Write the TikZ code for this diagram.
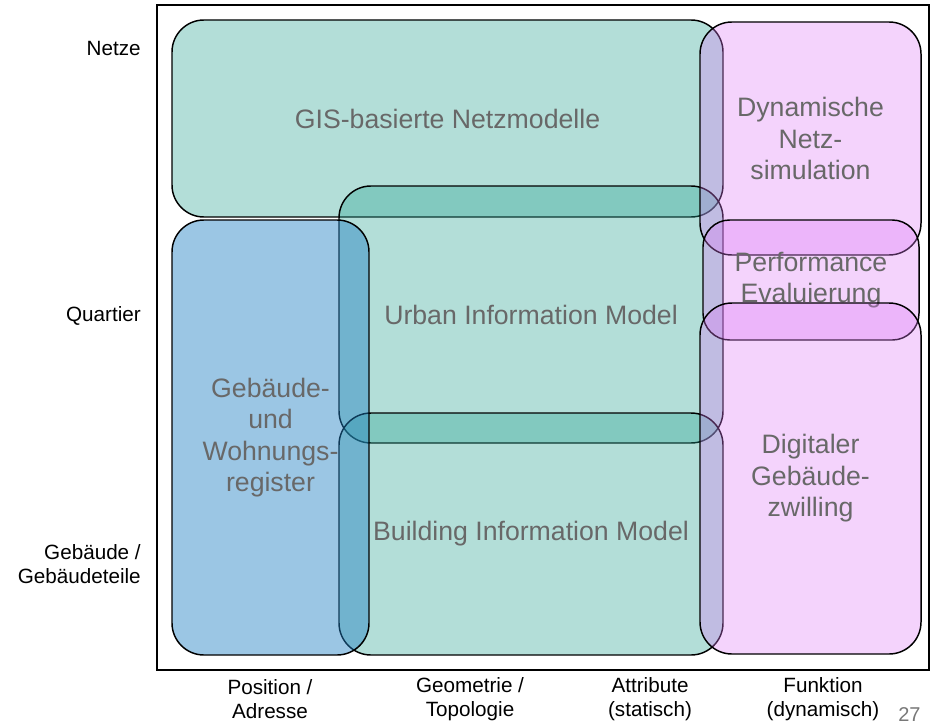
\documentclass[tikz,border=0pt]{standalone}
\usepackage{fontspec}
\setmainfont{Liberation Sans}
\definecolor{tealfill}{RGB}{38,161,144}
\definecolor{bluefill}{RGB}{33,128,195}
\definecolor{pinkfill}{RGB}{221,121,246}
\definecolor{zonetext}{RGB}{104,104,104}
\definecolor{pagenum}{RGB}{120,120,120}
\begin{document}
\begin{tikzpicture}[x=0.75pt,y=-0.75pt,
  zone/.style={draw=black, line width=1.1pt, rounded corners=24pt,
    text opacity=1, text=zonetext, align=center, inner sep=0pt,
    font=\fontsize{20}{23.6}\selectfont},
  tealzone/.style={zone, fill=tealfill, fill opacity=.35},
  bluezone/.style={zone, fill=bluefill, fill opacity=.45},
  pinkzone/.style={zone, fill=pinkfill, fill opacity=.33},
  axislabel/.style={text=black, inner sep=0pt, font=\fontsize{15.5}{18}\selectfont}]

\useasboundingbox (0,0) rectangle (930,724);

% outer frame
\draw[line width=1.1pt] (157,5) rectangle (929,670);

% data models (teal)
\node[tealzone, minimum width=413.25pt, minimum height=147.75pt] (gis) at (447.5,118.5) {GIS-basierte Netzmodelle};
\node[tealzone, minimum width=288pt, minimum height=192.75pt] (uim) at (531,314.5) {Urban Information Model};
\node[tealzone, minimum width=288pt, minimum height=181.5pt] (bim) at (531,534) {Building Information Model};

% register (blue)
\node[bluezone, minimum width=147.75pt, minimum height=326.25pt] (reg) at (270.5,437.5) {Gebäude-\\und\\Wohnungs-\\register};

% dynamic models (pink)
\node[pinkzone, minimum width=165.75pt, minimum height=174.75pt] (dyn) at (810.5,138.5) {Dynamische\\Netz-\\simulation};
\node[pinkzone, rounded corners=20pt, minimum width=162pt, minimum height=90pt] (perf) at (811,280) {Performance\\Evaluierung};
\node[pinkzone, minimum width=165.75pt, minimum height=263.25pt] (twin) at (810.5,478.5) {Digitaler\\Gebäude-\\zwilling};

% scale axis (rows)
\node[axislabel, anchor=east] (netze) at (141,48) {Netze};
\node[axislabel, anchor=east] (quartier) at (141,316) {Quartier};
\node[axislabel, anchor=east, align=right] (gebaeude) at (141,564) {Gebäude /\\Gebäudeteile};

% information axis (columns)
\node[axislabel, align=center] (pos) at (270,699.5) {Position /\\Adresse};
\node[axislabel, align=center] (geo) at (470,699.5) {Geometrie /\\Topologie};
\node[axislabel, align=center] (attr) at (650,699.5) {Attribute\\(statisch)};
\node[axislabel, align=center] (funk) at (823,699.5) {Funktion\\(dynamisch)};

% page number
\node[text=pagenum, inner sep=0pt, anchor=south west, font=\fontsize{15}{18}\selectfont] (page) at (898,722) {27};
\end{tikzpicture}
\end{document}
